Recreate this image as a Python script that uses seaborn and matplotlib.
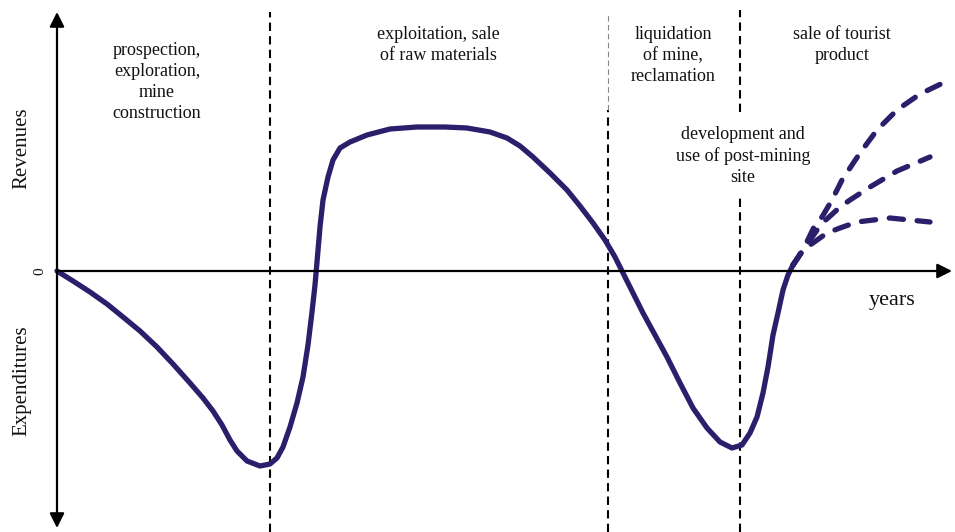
import matplotlib
matplotlib.use("Agg")
import matplotlib.pyplot as plt
import seaborn as sns
import pandas as pd

# values: t = time (years axis), v = revenues (+) / expenditures (-)
t_main = [0, 16, 33, 50, 66, 83, 100, 116, 133, 146, 156, 165, 173, 180, 190, 203, 213,
          220, 226, 233, 240, 246, 251, 255, 258, 260, 263, 266, 271, 276, 283, 293,
          310, 333, 360, 388, 410, 433, 450, 463, 476, 493, 510, 523, 536, 548, 558,
          565, 575, 586, 598, 610, 623, 636, 650, 663, 675, 685, 693, 700, 706, 711,
          716, 721, 726, 731, 736]
v_main = [0, -10, -21, -33, -46, -60, -76, -93, -112, -127, -140, -154, -169, -180, -190, -195, -193,
          -187, -176, -156, -132, -106, -74, -41, -14, 9, 44, 71, 94, 111, 123, 129,
          136, 142, 144, 144, 143, 139, 133, 125, 114, 98, 81, 65, 48, 31, 14,
          0, -20, -42, -64, -86, -112, -137, -157, -171, -177, -174, -162, -146, -122, -96,
          -64, -42, -19, -4, 6]

t_upper = [736, 746, 758, 765, 775, 785, 803, 820, 840, 863, 888]
v_upper = [6, 21, 46, 54, 71, 91, 118, 141, 161, 177, 189]
t_middle = [736, 746, 765, 771, 783, 793, 813, 840, 873]
v_middle = [6, 21, 48, 53, 64, 71, 84, 100, 114]
t_lower = [736, 746, 770, 783, 800, 833, 873]
v_lower = [6, 21, 38, 43, 49, 53, 49]

phase_labels = ["prospection,\nexploration,\nmine\nconstruction",
                "exploitation, sale\nof raw materials",
                "liquidation\nof mine,\nreclamation",
                "development and\nuse of post-mining\nsite",
                "sale of tourist\nproduct"]
phase_x = [100, 381, 616, 686, 785]
phase_y = [229, 245, 245, 145, 245]
boundaries = [213, 551, 683]

sns.set_style("white")
plt.rcParams["font.family"] = ["Liberation Serif", "DejaVu Serif"]

navy = "#2b1f6c"
fig = plt.figure(figsize=(9.55, 5.32), dpi=100)
ax = fig.add_axes([0, 0, 1, 1])
ax.set_xlim(-57, 898)
ax.set_ylim(-261, 271)
ax.axis("off")

# phase boundaries
ax.vlines(boundaries[0], -261, 259, colors="black", linestyles=(0, (4, 2.5)), lw=1.5)
ax.vlines(boundaries[1], -261, 161, colors="black", linestyles=(0, (4, 2.5)), lw=1.5)
ax.vlines(boundaries[1], 161, 256, colors="#888888", linestyles=(0, (5, 3)), lw=0.8)
ax.vlines(boundaries[2], -261, 76, colors="black", linestyles=(0, (4, 2.5)), lw=1.5)
ax.vlines(boundaries[2], 159, 261, colors="black", linestyles=(0, (4, 2.5)), lw=1.5)

# axes arrows
ax.annotate("", xy=(0, 259), xytext=(0, -257),
            arrowprops=dict(arrowstyle="<|-|>", color="black", lw=1.6,
                            mutation_scale=22, shrinkA=0, shrinkB=0))
ax.annotate("", xy=(895, 0), xytext=(0, 0),
            arrowprops=dict(arrowstyle="-|>", color="black", lw=1.6,
                            mutation_scale=22, shrinkA=0, shrinkB=0))

# main curve
main = pd.DataFrame({"t": t_main, "v": v_main})
sns.lineplot(data=main, x="t", y="v", sort=False, color=navy, lw=3.8,
             solid_joinstyle="round", solid_capstyle="round", ax=ax)

# scenarios after reclamation
for tt, vv in [(t_upper, v_upper), (t_middle, v_middle), (t_lower, v_lower)]:
    sns.lineplot(x=tt, y=vv, sort=False, color=navy, lw=3.8,
                 linestyle=(0, (2.7, 2.6)), dash_capstyle="round",
                 dash_joinstyle="round", ax=ax)

for lab, x, y in zip(phase_labels, phase_x, phase_y):
    kw = {}
    if lab.startswith("development"):
        kw["bbox"] = dict(facecolor="white", edgecolor="none", pad=1)
    ax.text(x, y, lab, ha="center", va="top", fontsize=13, linespacing=1.3,
            color="#111111", **kw)

ax.text(835, -29, "years", ha="center", va="center", fontsize=16, color="#111111")
ax.text(-35, 123, "Revenues", ha="center", va="center", rotation=90, fontsize=15, color="#111111")
ax.text(-35, -110, "Expenditures", ha="center", va="center", rotation=90, fontsize=15, color="#111111")
ax.text(-17, 0, "0", ha="center", va="center", rotation=90, fontsize=11, color="#111111")

fig.savefig("out.png", dpi=100)
